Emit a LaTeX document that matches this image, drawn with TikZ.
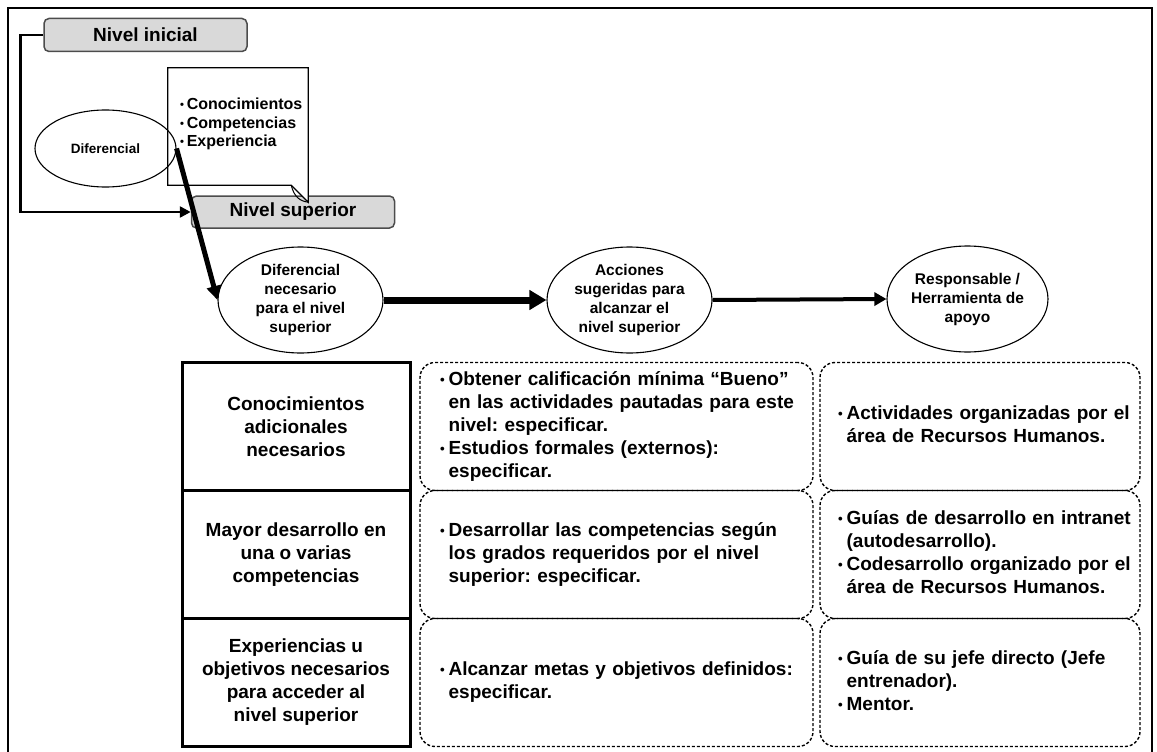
\documentclass[tikz,border=0pt]{standalone}
\usepackage{fontspec}
\setmainfont{Liberation Sans}
\usepackage{graphicx}
\usetikzlibrary{shapes.geometric,arrows.meta}
\frenchspacing
\newcommand{\bul}{\raisebox{0.1ex}{\scalebox{0.7}{•}}}
\newenvironment{blist}{\begin{tabular}{@{}l@{\hspace{4pt}}l@{}}}{\end{tabular}}
\begin{document}
\begin{tikzpicture}[x=1pt,y=-1pt,
  lvl/.style={draw=black!70, fill=black!15, rounded corners=5pt, line width=1.5pt,
    minimum width=203pt, minimum height=33pt, inner sep=0pt,
    font=\fontsize{19}{22}\selectfont\bfseries},
  ell/.style={ellipse, draw, line width=1.1pt, minimum width=165pt, minimum height=106pt,
    inner sep=0pt, align=center, font=\fontsize{15.5}{19}\selectfont\bfseries},
  lbox/.style={draw, line width=3pt, minimum width=228pt, minimum height=128pt,
    inner sep=0pt, align=center, font=\fontsize{19}{23}\selectfont\bfseries},
  dbox/.style={draw, line width=1.4pt, dash pattern=on 3pt off 2pt, rounded corners=15pt,
    minimum height=128pt, inner ysep=0pt, align=left,
    font=\fontsize{19}{23}\selectfont\bfseries},
  mid/.style={dbox, text width=353pt, inner xsep=20pt},
  rgt/.style={dbox, text width=284pt, inner xsep=18pt},
]
\useasboundingbox (0,0) rectangle (1157,752);
% outer frame
\draw[line width=2pt] (8,752) -- (8,8) -- (1152,8) -- (1152,752);

% level boxes
\node[lvl] (ini) at (145.5,35) {Nivel inicial};
\node[lvl, minimum height=32pt] (sup) at (293,212) {Nivel superior};

% note with folded corner
\node[minimum width=140pt, minimum height=117pt, inner sep=0pt] (note) at (238,126.5) {};
\draw[line width=1.2pt, fill=white]
  (note.north west) -- (note.north east) -- ([yshift=-17pt]note.south east)
  -- ([xshift=-17pt]note.south east) -- (note.south west) -- cycle;
\draw[line width=1pt]
  ([yshift=-17pt]note.south east) .. controls ([xshift=-8pt,yshift=-16pt]note.south east) and ([xshift=-14pt,yshift=-12pt]note.south east) .. ([xshift=-17pt]note.south east);
\node[anchor=west, inner sep=0pt, align=left, font=\fontsize{16}{18.7}\selectfont\bfseries] (notetxt) at (180,124)
  {\bul\,Conocimientos\\ \bul\,Competencias\\ \bul\,Experiencia};

% small ellipse
\node[ell, minimum width=141pt, minimum height=77pt, font=\fontsize{13.5}{16}\selectfont\bfseries] (dif) at (105.5,148.5) {Diferencial};

% big ellipses
\node[ell] (c1) at (300.5,300) {Diferencial\\necesario\\para el nivel\\superior};
\node[ell] (c2) at (629.5,300) {Acciones\\sugeridas para\\alcanzar el\\nivel superior};
\node[ell, minimum width=161pt] (c3) at (967.5,299) {Responsable /\\Herramienta de\\apoyo};

% connectors
\draw[line width=2.5pt, -{Triangle[length=11pt,width=11pt]}] (ini.west) -- ++(-23,0) |- (sup.west);
\draw[line width=5pt, -{Triangle[length=14pt,width=14pt]}] (dif.east) -- (c1.west);
\draw[line width=7pt, -{Triangle[length=17pt,width=19pt]}] (c1.east) -- (c2.west);
\draw[line width=4pt, -{Triangle[length=12pt,width=13pt]}] (c2.east) -- (c3.west);

% table: left column
\node[lbox] (l1) at (296,426.5) {Conocimientos\\adicionales\\necesarios};
\node[lbox] (l2) at (296,554.5) {Mayor desarrollo en\\una o varias\\competencias};
\node[lbox] (l3) at (296,682.5) {Experiencias u\\objetivos necesarios\\para acceder al\\nivel superior};

% middle column
\node[mid] (m1) at (616.5,426.5) {\begin{blist}
\bul & Obtener calificación mínima “Bueno”\\
 & en las actividades pautadas para este\\
 & nivel: especificar.\\
\bul & Estudios formales (externos):\\
 & especificar.
\end{blist}};
\node[mid] (m2) at (616.5,554.5) {\begin{blist}
\bul & Desarrollar las competencias según\\
 & los grados requeridos por el nivel\\
 & superior: especificar.
\end{blist}};
\node[mid] (m3) at (616.5,682.5) {\begin{blist}
\bul & Alcanzar metas y objetivos definidos:\\
 & especificar.
\end{blist}};

% right column
\node[rgt] (r1) at (980,426.5) {\begin{blist}
\bul & Actividades organizadas por el\\
 & área de Recursos Humanos.
\end{blist}};
\node[rgt] (r2) at (980,554.5) {\begin{blist}
\bul & Guías de desarrollo en intranet\\
 & (autodesarrollo).\\
\bul & Codesarrollo organizado por el\\
 & área de Recursos Humanos.
\end{blist}};
\node[rgt] (r3) at (980,682.5) {\begin{blist}
\bul & Guía de su jefe directo (Jefe\\
 & entrenador).\\
\bul & Mentor.
\end{blist}};
\end{tikzpicture}
\end{document}
